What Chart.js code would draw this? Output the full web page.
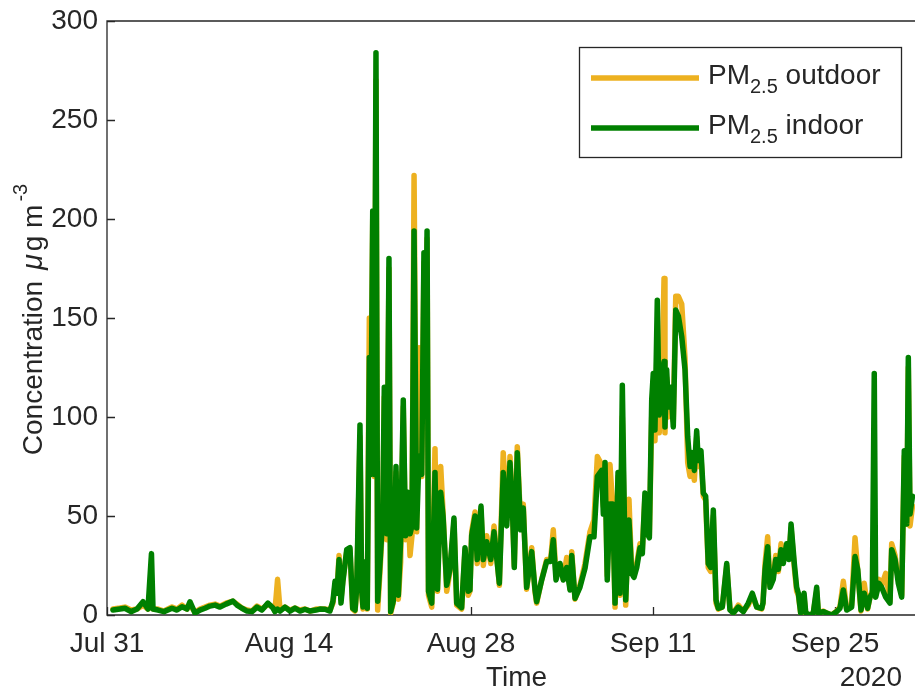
<!DOCTYPE html>
<html>
<head>
<meta charset="utf-8">
<script src="https://cdn.jsdelivr.net/npm/chart.js@4.4.1/dist/chart.umd.min.js"></script>
<style>
  html, body { margin: 0; padding: 0; background: #fff; }
  #wrap { width: 915px; height: 691px; overflow: hidden; }
</style>
</head>
<body>
<div id="wrap"><canvas id="pmChart" width="930" height="691"></canvas></div>
<script>
// Time axis in days since Jul 31 00:00 (2020)
const daysSinceJul31 = [
  0.46,1.00,1.38,1.85,2.31,2.77,3.15,3.42,3.54,3.92,
  4.38,5.00,5.38,5.77,6.15,6.38,6.77,7.15,7.54,7.92,
  8.31,8.69,9.15,9.69,10.00,10.38,10.77,11.15,11.54,11.92,
  12.38,12.77,12.92,13.12,13.31,13.69,14.08,14.46,14.85,15.23,
  15.62,16.08,16.38,16.77,17.15,
  17.38,17.54,17.69,17.85,18.00,18.15,18.44,18.69,18.90,19.08,
  19.21,19.46,19.59,19.69,19.90,20.02,20.18,20.28,20.44,20.56,
  20.69,20.82,21.00,21.21,21.33,21.52,21.69,21.82,22.02,22.23,
  22.41,22.59,22.79,22.96,23.15,23.31,23.46,23.62,23.82,24.00,
  24.21,24.38,24.50,24.62,24.73,24.98,25.23,25.42,25.67,25.85,
  26.13,26.38,26.69,26.90,27.28,27.54,27.79,27.92,
  28.05,28.31,28.48,28.77,28.95,29.21,29.52,29.77,30.18,30.48,
  30.75,31.00,31.18,31.33,31.56,31.82,32.02,32.28,32.67,32.92,
  33.05,33.44,33.82,34.13,34.33,34.54,34.85,35.10,35.36,35.62,
  35.75,36.00,36.38,36.77,37.15,37.46,37.72,38.05,38.18,38.31,
  38.48,38.69,38.90,39.08,39.31,39.46,39.64,39.90,
  40.15,40.36,40.54,40.75,41.00,41.18,41.38,41.56,41.72,41.90,
  42.02,42.15,42.33,42.48,42.67,42.85,42.92,43.05,43.18,43.38,
  43.56,43.75,43.95,44.21,44.46,44.67,44.85,45.02,45.18,45.36,
  45.48,45.69,45.87,46.05,46.25,46.44,46.64,46.85,47.02,47.33,
  47.67,47.92,48.18,48.56,48.95,49.33,49.64,49.98,50.36,
  50.46,50.62,50.82,51.00,51.25,51.44,51.64,51.85,52.02,52.28,
  52.46,52.62,52.87,53.05,53.18,53.36,53.62,53.75,54.08,54.33,
  54.59,54.72,55.10,55.36,55.75,56.13,56.38,56.64,56.90,57.28,
  57.54,57.75,58.00,58.25,58.51,58.69,58.87,59.02,59.13,59.38,
  59.59,59.90,60.23,60.36,60.62,60.87,61.13,61.33,61.52,61.64,
  61.77,61.96
];

// PM2.5 outdoor, ug/m3
const outdoorPM = [
  3,3.5,4,2.5,3,5,3,5,3,3,
  2,4,3,5,3,5,1.5,3,4,5,
  5.5,4.5,6,7,5.5,3.5,2.5,2,4.5,3,
  5.5,4,2,18,2.5,4,2.5,3.5,2.5,3,
  2,3,3,3,2.5,
  6,15,12,30,8,18,32,33,3,2,
  12,90,12,3,24,3,150,75,200,70,
  270,2.5,22,48,110,38,175,1,6,72,
  8,27,105,38,55,30,40,222,42,135,
  70,178,115,190,10,4,84,12,75,52,
  12,22,47,5,3,33,10,12,
  42,52,26,53,25,40,26,45,15,82,
  48,80,55,25,85,45,56,13,34,12,
  6,18,28,28,43,20,25,18,29,13,
  32,8,15,26,42,48,80,76,55,75,
  20,76,55,4,70,10,100,5,
  58.5,22,20,26,36,33,60,42,40,100,
  118,88,140,92,115,170,92,120,100,110,
  98,161,161,157,130,77,70,78,68,90,
  75,80,60,58,24,22,50,6,3,4,
  25,3,1,5,2,5,10,4,3,
  6,26,39.5,15,20,30,22,36,27,35,
  30,44,24,12,10,1,9,0.5,0,1,
  12,1,2,1,0,2,4,17,3,5,
  39,22,2,16,3,9,12,15,10,18,
  15,21,7,36,30,18,10,80,46,125,
  45,55
];

// PM2.5 indoor, ug/m3
const indoorPM = [
  2.5,3,3.4,1.7,3,6.7,3,31,3,2.5,
  1.7,3.4,2.5,4.2,3,6.7,1,2.5,3.4,4.5,
  5,4,5.5,7,5,3.4,2,1.7,4,2.5,
  6,3.5,1.7,3,2,4,2,3.5,2,2.9,
  2,2.5,3,2.9,2,
  7,17,11,28,6,17,33,34,3.4,2.5,
  14,96,12.6,4,27,3.4,130,71,204,71,
  284,7,26,50,115,41,180,1.7,7,75,
  10,38,108.6,40,62,41,45,194,44,80,
  71,183,120,194,12,6,72,13,62,50,
  15,23,49,6,3.7,34,12,12.6,
  40,50,28,55,28,37,28,42,16,72,
  45,77,55,24,82,43,54,14,32,13,
  6.7,17.7,27,27,38,17.7,26,17.7,24,12.6,
  30,8.4,14,23.6,39.5,39.5,70,73,51,77,
  17.7,56,56,6,72,11,116,7.6,
  48,21,19,24,34,31,61.6,41,39,108.6,
  122,93.4,159,101,120,128,95,124,105,115,
  95,154,151,140.6,124,90,75,82,73,93,
  78,83,61.6,60,26,24,53,7.6,3.4,4,
  26,2.5,1,4,1.7,6,11,4,3.4,
  6,23,34.5,14,18,28,23,33,26,36,
  28,46,26,14,11,1,11,1,0,1,
  14,1,1.7,1,0,1.7,3.4,12.6,2.5,4,
  29.5,23,2.5,11,3.4,9,11,122,9,16,
  14,9,6,33,28,16,9,83,46,130,
  51,60
];

const tickDays = [0, 14, 28, 42, 56];
const tickLabels = ['Jul 31', 'Aug 14', 'Aug 28', 'Sep 11', 'Sep 25'];
const yearLabel = '2020';

const textColor = '#262626';
const fontFamily = '"Liberation Sans", Arial, Helvetica, sans-serif';
const outdoorColor = '#EDB120';
const indoorColor = '#008000';
const seriesWidth = 5.5;

const toPoints = vals => vals.map((v, i) => ({ x: daysSinceJul31[i], y: v }));

// MATLAB-like box, inward ticks, labels with sub/superscripts, legend
const matlabAxes = {
    id: 'matlabAxes',
    beforeDatasetsDraw(chart) {
        const { ctx, chartArea: a, scales: { x, y } } = chart;
        ctx.save();
        ctx.strokeStyle = textColor;
        ctx.lineWidth = 1.3;
        ctx.beginPath();
        ctx.moveTo(a.right, a.top);
        ctx.lineTo(a.left, a.top);
        ctx.lineTo(a.left, a.bottom);
        ctx.lineTo(a.right, a.bottom);
        y.ticks.forEach(t => {
            const py = Math.round(y.getPixelForValue(t.value)) + 0.5;
            ctx.moveTo(a.left, py);
            ctx.lineTo(a.left + 8, py);
        });
        x.ticks.forEach(t => {
            const px = Math.round(x.getPixelForValue(t.value)) + 0.5;
            ctx.moveTo(px, a.bottom);
            ctx.lineTo(px, a.bottom - 8);
        });
        ctx.stroke();
        ctx.restore();
    },
    afterDraw(chart) {
        const { ctx, chartArea: a } = chart;
        ctx.save();
        ctx.fillStyle = textColor;

        // x title + year
        ctx.font = `28px ${fontFamily}`;
        ctx.textBaseline = 'alphabetic';
        ctx.textAlign = 'center';
        ctx.fillText('Time', (a.left + a.right) / 2, 686);
        ctx.textAlign = 'right';
        ctx.fillText(yearLabel, 902, 686);

        // y title: Concentration \mu g m^{-3}
        const parts = [
            { t: 'Concentration ', f: `28px ${fontFamily}`, dy: 0 },
            { t: 'μ', f: `italic 29px ${fontFamily}`, dy: 0 },
            { t: 'g m', f: `28px ${fontFamily}`, dy: 0 },
            { t: '-3', f: `20px ${fontFamily}`, dy: -15 }
        ];
        let total = 0;
        parts.forEach(p => { ctx.font = p.f; p.w = ctx.measureText(p.t).width; total += p.w; });
        total += 12;
        ctx.translate(42, (a.top + a.bottom) / 2);
        ctx.rotate(-Math.PI / 2);
        ctx.textAlign = 'left';
        let cx = -total / 2;
        parts.forEach(p => { ctx.font = p.f; ctx.fillText(p.t, cx, p.dy); cx += p.w + 3; });
        ctx.setTransform(1, 0, 0, 1, 0, 0);

        // legend
        const box = { x: 579.5, y: 47.5, w: 322, h: 110 };
        ctx.fillStyle = '#fff';
        ctx.fillRect(box.x, box.y, box.w, box.h);
        ctx.strokeStyle = textColor;
        ctx.lineWidth = 1.3;
        ctx.strokeRect(box.x, box.y, box.w, box.h);
        const rows = [
            { c: outdoorColor, name: ' outdoor', ly: 78 },
            { c: indoorColor, name: ' indoor', ly: 128 }
        ];
        rows.forEach(r => {
            ctx.strokeStyle = r.c;
            ctx.lineWidth = seriesWidth;
            ctx.beginPath();
            ctx.moveTo(591, r.ly);
            ctx.lineTo(699, r.ly);
            ctx.stroke();
            ctx.fillStyle = textColor;
            ctx.textAlign = 'left';
            let tx = 708;
            const base = r.ly + 6;
            ctx.font = `28px ${fontFamily}`;
            ctx.fillText('PM', tx, base);
            tx += ctx.measureText('PM').width;
            ctx.font = `20px ${fontFamily}`;
            ctx.fillText('2.5', tx, base + 9);
            tx += ctx.measureText('2.5').width;
            ctx.font = `28px ${fontFamily}`;
            ctx.fillText(r.name, tx, base);
        });
        ctx.restore();
    }
};

const lineDataset = (label, vals, color, order) => ({
    label: label,
    data: toPoints(vals),
    borderColor: color,
    borderWidth: seriesWidth,
    pointRadius: 0,
    tension: 0,
    borderJoinStyle: 'round',
    borderCapStyle: 'round',
    order: order
});

new Chart(document.getElementById('pmChart'), {
    type: 'line',
    data: {
        datasets: [
            lineDataset('PM2.5 outdoor', outdoorPM, outdoorColor, 2),
            lineDataset('PM2.5 indoor', indoorPM, indoorColor, 1)
        ]
    },
    options: {
        responsive: false,
        animation: false,
        devicePixelRatio: 1,
        layout: { padding: { top: 21, right: 4, left: 0, bottom: 0 } },
        plugins: { legend: { display: false }, tooltip: { enabled: false } },
        scales: {
            x: {
                type: 'linear',
                min: 0,
                max: 63,
                grid: { display: false, drawTicks: false },
                border: { display: false },
                afterBuildTicks: s => { s.ticks = tickDays.map(v => ({ value: v })); },
                afterFit: s => { s.height = 76; },
                ticks: {
                    autoSkip: false,
                    maxRotation: 0,
                    padding: 12,
                    color: textColor,
                    font: { family: fontFamily, size: 28 },
                    callback: (v, i) => tickLabels[i]
                }
            },
            y: {
                min: 0,
                max: 300,
                grid: { display: false, drawTicks: true, tickLength: 9 },
                border: { display: false },
                afterFit: s => { s.width = 107; },
                ticks: {
                    stepSize: 50,
                    padding: 0,
                    color: textColor,
                    font: { family: fontFamily, size: 28 }
                }
            }
        }
    },
    plugins: [matlabAxes]
});
</script>
</body>
</html>
